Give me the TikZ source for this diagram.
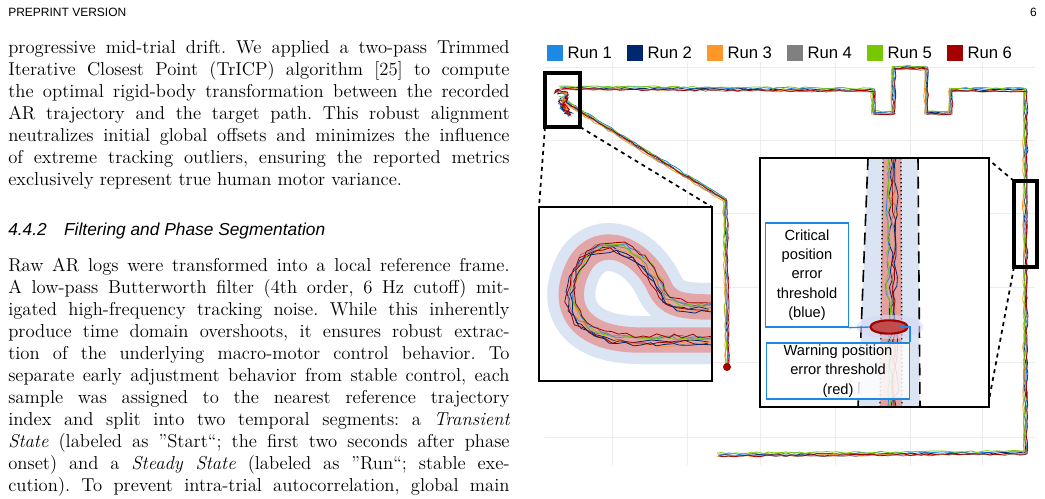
\documentclass[tikz,border=0pt]{standalone}
\usepackage{fontspec}
\newfontfamily\figsans{Liberation Sans}
\usetikzlibrary{decorations.pathmorphing}
\definecolor{runA}{RGB}{30,136,229}
\definecolor{runB}{RGB}{0,40,110}
\definecolor{runC}{RGB}{255,150,40}
\definecolor{runD}{RGB}{128,128,128}
\definecolor{runE}{RGB}{120,200,0}
\definecolor{runF}{RGB}{165,0,0}
\definecolor{bandblue}{RGB}{218,228,242}
\definecolor{bandred}{RGB}{228,160,160}
\definecolor{boxblue}{RGB}{30,136,229}
\tikzset{
  body/.style={anchor=north west, text width=376pt, align=justify, inner sep=0pt,
    font=\fontsize{14}{16.5}\selectfont\frenchspacing},
  traj/.style={line width=0.6pt, decorate, decoration={random steps, segment length=4pt, amplitude=0.7pt}},
  wiggle/.style={line width=0.6pt, decorate, decoration={random steps, segment length=6pt, amplitude=1.8pt}},
  zoombox/.style={draw=black, line width=1.2pt},
  marker/.style={draw=black, line width=2.6pt},
  guide/.style={black, line width=1.3pt, dash pattern=on 3pt off 3pt},
  legbox/.style={minimum size=12pt, inner sep=0pt},
  leglabel/.style={anchor=west, font=\figsans\fontsize{12.5}{13}\selectfont, inner sep=3pt},
  note/.style={draw=boxblue, line width=1pt, fill=white, align=center, inner sep=1pt,
    font=\figsans\fontsize{11}{14.5}\selectfont},
  gridline/.style={gray!15, line width=0.6pt}
}
\newcommand{\mainroute}{(560,88) -- (873,90) -- (873,113) -- (893,113) -- (893,68) -- (926,68) -- (926,113) -- (950,113) -- (950,90) -- (1025,90) -- (1025,453) -- (718,455)}
\newcommand{\sideroute}{(560,98) -- (578,110) -- (725,200) -- (727,367)}
\newcommand{\loopcurve}{(712,340) -- (640,340) .. controls (572,340) and (560,300) .. (580,264) .. controls (600,232) and (642,248) .. (660,288) .. controls (668,304) and (680,307) .. (712,307)}
\begin{document}
\begin{tikzpicture}[x=0.75pt, y=-0.75pt]
\pgfmathsetseed{7}
\useasboundingbox (0,0) rectangle (1045,499);

% page header
\node[anchor=west, inner sep=0pt, font=\figsans\fontsize{9}{10}\selectfont] (hdr) at (8,12) {PREPRINT VERSION};
\node[anchor=east, inner sep=0pt, font=\figsans\fontsize{9}{10}\selectfont] (pg) at (1037,12) {6};

% text column
\node[body] (para1) at (8,40) {progressive mid-trial drift. We applied a two-pass Trimmed\linebreak
Iterative Closest Point (TrICP) algorithm [25] to compute\linebreak
the optimal rigid-body transformation between the recorded\linebreak
AR trajectory and the target path. This robust alignment\linebreak
neutralizes initial global offsets and minimizes the influence\linebreak
of extreme tracking outliers, ensuring the reported metrics\linebreak
exclusively represent true human motor variance.};
\node[anchor=west, inner sep=0pt, font=\figsans\itshape\fontsize{13}{14}\selectfont] (sec) at (8,231) {4.4.2\quad Filtering and Phase Segmentation};
\node[body] (para2) at (8,258) {Raw AR logs were transformed into a local reference frame.\linebreak
A low-pass Butterworth filter (4th order, 6 Hz cutoff) mit-\linebreak
igated high-frequency tracking noise. While this inherently\linebreak
produce time domain overshoots, it ensures robust extrac-\linebreak
tion of the underlying macro-motor control behavior. To\linebreak
separate early adjustment behavior from stable control, each\linebreak
sample was assigned to the nearest reference trajectory\linebreak
index and split into two temporal segments: a \emph{Transient\linebreak
State} (labeled as ”Start“; the first two seconds after phase\linebreak
onset) and a \emph{Steady State} (labeled as ”Run“; stable exe-\linebreak
cution). To prevent intra-trial autocorrelation, global main\linebreak};

% grid
\foreach \gx in {612,687,760,835,910,982}
  \draw[gridline] (\gx,62) -- (\gx,465);
\foreach \gy in {67,140,213,287,362,437}
  \draw[gridline] (545,\gy) -- (1035,\gy);

% legend
\foreach \c/\lx/\lab in {runA/555/Run 1,runB/635/Run 2,runC/715/Run 3,runD/795/Run 4,runE/875/Run 5,runF/955/Run 6}{
  \node[legbox, fill=\c] (leg-\c) at (\lx,53) {};
  \node[leglabel] at (leg-\c.east) {\lab};
}

% trajectories of the six runs
\foreach \c/\dx/\dy in {runA/1.5/-1,runB/0/0,runC/-1.5/1,runD/0.8/1.5,runE/-0.8/-1.8,runF/2/1}{
  \draw[\c, traj, shift={(\dx,\dy)}] \mainroute;
  \draw[\c, traj, shift={(\dx,\dy)}] \sideroute;
}
\foreach \c in {runA,runB,runC,runF}
  \draw[\c, line width=0.7pt, decorate, decoration={random steps, segment length=2pt, amplitude=2.5pt}]
    (556,90) -- (568,95) -- (562,106) -- (570,115) -- (560,100);
\fill[runF] (727,367) circle (3pt);

% marker boxes and guides
\draw[marker] (545,73) rectangle (580,127);
\draw[marker] (1014,181) rectangle (1037,267);
\coordinate (lzA) at (545,127);
\coordinate (lzB) at (580,127);
\coordinate (rzA) at (1014,181);
\coordinate (rzB) at (1014,267);

% left inset
\fill[white] (539,207) rectangle (712,381);
\begin{scope}
  \clip (539,207) rectangle (712,381);
  \draw[bandblue, line width=36pt] \loopcurve;
  \draw[bandred, line width=19pt, opacity=0.9] \loopcurve;
  \foreach \c/\dx/\dy in {runA/2/-3,runB/-3/2,runC/3/4,runD/-2/-2,runE/4/-1,runF/-4/3,runB/1/5,runF/3/-4}
    \draw[\c, wiggle, shift={(\dx,\dy)}] \loopcurve;
\end{scope}
\draw[zoombox] (539,207) rectangle (712,381);
\coordinate (liA) at (539,207);
\coordinate (liB) at (712,207);
\draw[guide] (lzA) -- (liA);
\draw[guide] (lzB) -- (liB);

% right inset
\fill[white] (760,158) rectangle (989,407);
\begin{scope}
  \clip (760,158) rectangle (989,407);
  \fill[bandblue] (868,158) -- (918,158) -- (920,407) -- (858,407) -- cycle;
  \fill[bandred] (883,158) -- (901,158) -- (902,407) -- (880,407) -- cycle;
  \draw[black, line width=1.2pt, dash pattern=on 9pt off 5pt] (868,158) -- (858,407);
  \draw[black, line width=1.2pt, dash pattern=on 9pt off 5pt] (918,158) -- (920,407);
  \draw[black, line width=1pt, dotted] (883,158) -- (880,407);
  \draw[black, line width=1pt, dotted] (901,158) -- (902,407);
  \foreach \c/\dx in {runA/-3,runB/0,runC/4,runD/2,runE/-2,runF/3,runB/5}
    \draw[\c, wiggle, shift={(\dx,0)}] (891,158) -- (891,407);
  \fill[bandblue!70!blue!40, opacity=0.6] (890,327) ellipse (25pt and 9pt);
  \draw[runF, line width=1.6pt, fill=runF!70] (889,327) ellipse (14pt and 5pt);
\end{scope}
\draw[zoombox] (760,158) rectangle (989,407);
\coordinate (riA) at (989,160);
\coordinate (riB) at (989,400);
\draw[guide] (rzA) -- (riA);
\draw[guide] (rzB) -- (riB);

% threshold labels
\node[note, minimum width=62pt, minimum height=78pt] (crit) at (807,275) {Critical\\position\\error\\threshold\\(blue)};
\node[note, minimum width=107pt, minimum height=42pt, fill opacity=0.85, text opacity=1] (warn) at (838,371) {Warning position\\error threshold\\(red)};
\coordinate (redmark) at (900,327);
\draw[boxblue, line width=1pt] (crit.south east) -- (870,327);
\draw[boxblue, line width=1pt] (warn.north east) |- (redmark);
\end{tikzpicture}
\end{document}
